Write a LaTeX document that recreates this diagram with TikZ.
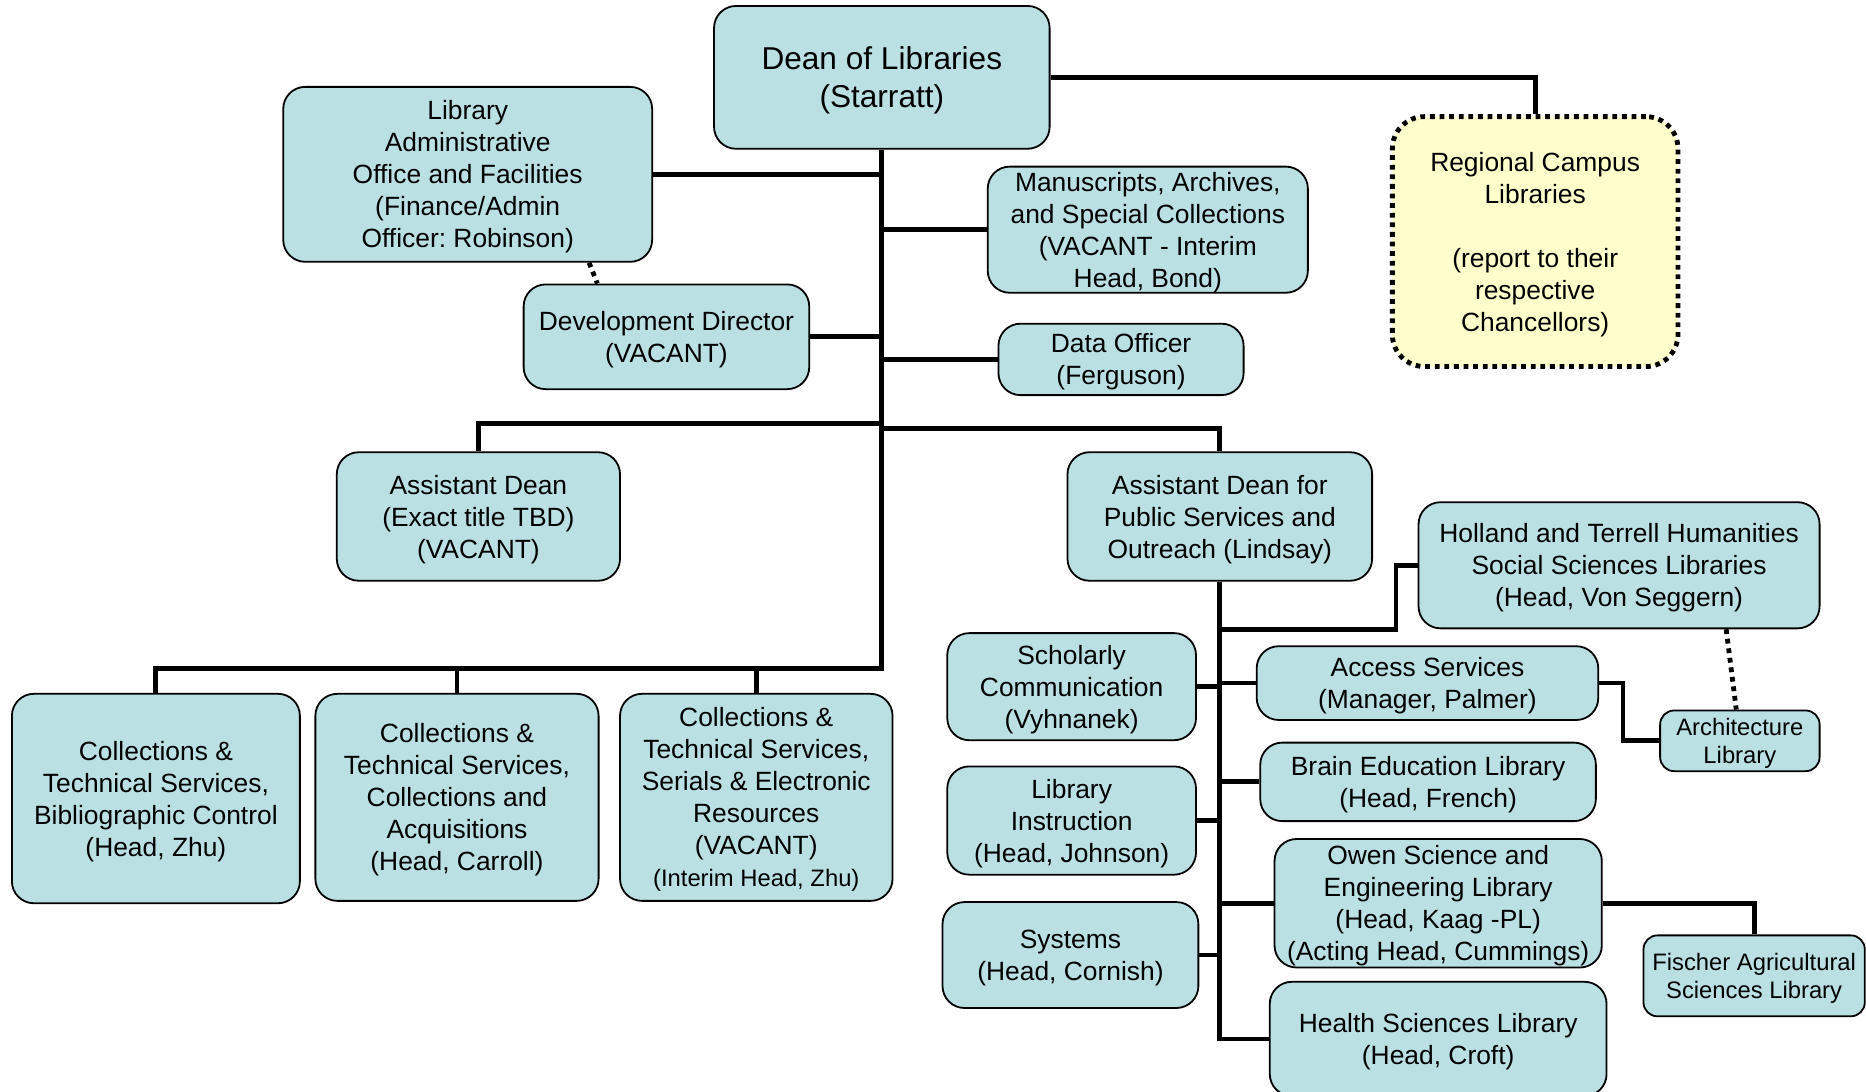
\documentclass[tikz,border=0pt]{standalone}
\usepackage{fontspec}
\setmainfont{Liberation Sans}
\frenchspacing
\usepackage{tikz}
\usetikzlibrary{calc}
\definecolor{boxblue}{HTML}{BBE0E3}
\definecolor{boxyellow}{HTML}{FFFFCC}
\tikzset{box/.style = {shape=rectangle,draw,line width=0.9pt,rounded corners=11pt,fill=boxblue,align=center,inner sep=0pt,text depth=-3.5pt,font=\fontsize{13.2}{16}\selectfont}}
\tikzset{smallbox/.style = {box,rounded corners=7pt,font=\fontsize{11.9}{14.2}\selectfont}}
\tikzset{sz/.style 2 args = {minimum width=#1*0.595pt,minimum height=#2*0.595pt}}
\tikzset{edge/.style = {line width=2.4pt}}
\tikzset{dotline/.style = {line width=2.4pt,dash pattern=on 2.4pt off 2.4pt}}

\begin{document}
\begin{tikzpicture}[x=0.595pt,y=-0.595pt]
            \useasboundingbox (0,0) rectangle (1568,917);

            \node[box,sz={282}{120},font=\fontsize{15.8}{19}\selectfont] (dean) at (741,65) {Dean of Libraries\\(Starratt)};
            \node[box,sz={310}{147}] (admin) at (393,146.5) {Library\\Administrative\\Office and Facilities\\(Finance/Admin\\Officer: Robinson)};
            \node[box,sz={240}{88}] (devdir) at (560,283) {Development Director\\(VACANT)};
            \node[box,sz={269}{106}] (msc) at (964.5,193) {Manuscripts, Archives,\\and Special Collections\\(VACANT - Interim\\Head, Bond)};
            \node[box,sz={206}{60}] (data) at (942,302) {Data Officer\\(Ferguson)};
            \node[box,sz={240}{210},fill=boxyellow,line width=2.4pt,dash pattern=on 2.4pt off 2.4pt,rounded corners=16pt] (regional) at (1290,203) {Regional Campus\\Libraries\\[16pt](report to their\\respective\\Chancellors)};

            \node[box,sz={238}{108}] (asst) at (402,434) {Assistant Dean\\(Exact title TBD)\\(VACANT)};
            \node[box,sz={256}{108}] (psdean) at (1025,434) {Assistant Dean for\\Public Services and\\Outreach (Lindsay)};

            \node[box,sz={242}{176}] (cts1) at (131,671) {Collections \&\\Technical Services,\\Bibliographic Control\\(Head, Zhu)};
            \node[box,sz={238}{174}] (cts2) at (384,670) {Collections \&\\Technical Services,\\Collections and\\Acquisitions\\(Head, Carroll)};
            \node[box,sz={229}{174}] (cts3) at (635.5,670) {Collections \&\\Technical Services,\\Serials \& Electronic\\Resources\\(VACANT)\\{\fontsize{11.9}{14}\selectfont(Interim Head, Zhu)}};

            \node[box,sz={337}{106}] (holland) at (1360.5,475) {Holland and Terrell Humanities\\Social Sciences Libraries\\(Head, Von Seggern)};
            \node[box,sz={209}{90}] (schol) at (900.5,577) {Scholarly\\Communication\\(Vyhnanek)};
            \node[box,sz={287}{62}] (access) at (1199.5,574) {Access Services\\(Manager, Palmer)};
            \node[smallbox,sz={134}{51}] (arch) at (1462,622.5) {Architecture\\Library};
            \node[box,sz={209}{91}] (instr) at (900.5,689.5) {Library\\Instruction\\(Head, Johnson)};
            \node[box,sz={282}{66}] (brain) at (1200,657) {Brain Education Library\\(Head, French)};
            \node[box,sz={275}{108}] (owen) at (1208.5,759) {Owen Science and\\Engineering Library\\(Head, Kaag -PL)\\(Acting Head, Cummings)};
            \node[box,sz={215}{89}] (systems) at (899.5,802.5) {Systems\\(Head, Cornish)};
            \node[smallbox,sz={186}{68}] (fischer) at (1474,820) {Fischer Agricultural\\Sciences Library};
            \node[box,sz={283}{96}] (health) at (1208.5,873) {Health Sciences Library\\(Head, Croft)};

            \coordinate (bus) at (741,562);
            \coordinate (lsplit) at (741,356);
            \coordinate (rsplit) at (741,360);

            \draw[edge] (dean.south) -- (bus) -| (cts1.north);
            \draw[edge] (bus -| cts2.north) -- (cts2.north);
            \draw[edge] (bus -| cts3.north) -- (cts3.north);
            \draw[edge] (dean.east) -| (regional.north);
            \draw[edge] (admin.east) -- (admin.east -| dean.south);
            \draw[edge] (msc.west) -- (msc.west -| dean.south);
            \draw[edge] (devdir.east) -- (devdir.east -| dean.south);
            \draw[edge] (data.west) -- (data.west -| dean.south);
            \draw[edge] (lsplit) -| (asst.north);
            \draw[edge] (rsplit) -| (psdean.north);

            \draw[edge] (psdean.south) -- (psdean.south |- health.west) -- (health.west);
            \draw[edge] (psdean.south |- holland.south) -- ++(148,0) |- (holland.west);
            \draw[edge] (schol.east) -- (schol.east -| psdean.south);
            \draw[edge] (access.west) -- (access.west -| psdean.south);
            \draw[edge] (brain.west) -- (brain.west -| psdean.south);
            \draw[edge] (instr.east) -- (instr.east -| psdean.south);
            \draw[edge] (owen.west) -- (owen.west -| psdean.south);
            \draw[edge] (systems.east) -- (systems.east -| psdean.south);
            \draw[edge] (access.east) -- ++(20,0) |- (arch.west);
            \draw[edge] (owen.east) -| (fischer.north);

            \draw[dotline] ($(holland.south)+(90,0)$) -- ($(arch.north)+(-3,0)$);
            \draw[dotline] ($(admin.south)+(102,0)$) -- ($(devdir.north)+(-58,0)$);
\end{tikzpicture}
\end{document}
